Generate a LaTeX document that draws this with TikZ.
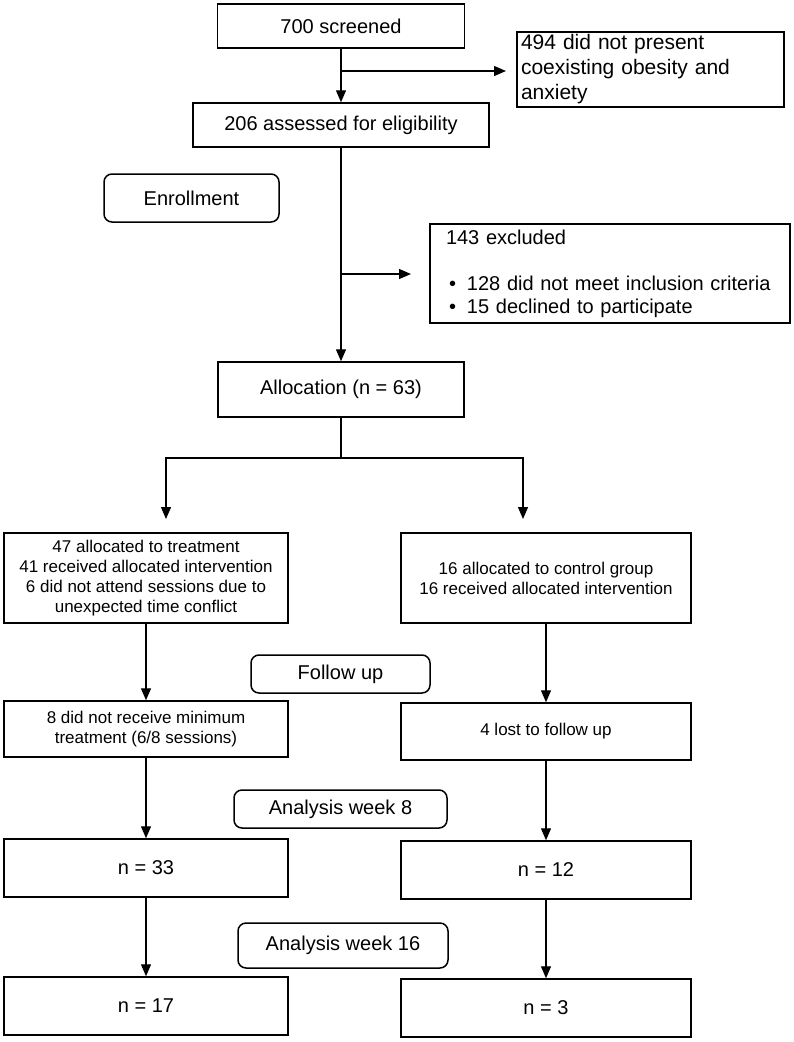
\documentclass[tikz,border=0pt]{standalone}
\usepackage{fontspec}
\setmainfont{Liberation Sans}
\usetikzlibrary{arrows.meta}
\begin{document}
\begin{tikzpicture}[x=1pt,y=-1pt,
  box/.style={draw, line width=1.5pt, inner sep=0pt, align=center, font=\fontsize{20}{23}\selectfont},
  small/.style={box, font=\fontsize{17}{20}\selectfont},
  stage/.style={box, rounded corners=8pt},
  arr/.style={-{Triangle[length=12pt,width=10pt]}, line width=1.3pt},
  ln/.style={line width=1.3pt}
]
\useasboundingbox[fill=white] (0,0) rectangle (793,1042);

% top part
\node[box, minimum width=247pt, minimum height=44pt] (s700) at (341,26) {700 screened};
\node[box, minimum width=267pt, minimum height=75pt, text width=259pt, align=left, font=\fontsize{21}{25}\selectfont] (n494) at (650.5,69.5)
  {494 did not present\\coexisting obesity and\\anxiety};
\node[box, minimum width=296pt, minimum height=44pt] (n206) at (341,125) {206 assessed for eligibility};
\node[stage, minimum width=175pt, minimum height=48pt] (enroll) at (191.5,198) {Enrollment};
\node[box, minimum width=360pt, minimum height=99pt, text width=328pt, align=left] (n143) at (610,273.5)
  {143 excluded\\[23pt]\hspace*{3pt}\makebox[18pt][l]{\textbullet}128 did not meet inclusion criteria\\\hspace*{3pt}\makebox[18pt][l]{\textbullet}15 declined to participate};
\node[box, minimum width=246pt, minimum height=55pt] (alloc) at (341,389.5) {Allocation (n = 63)};

% columns
\node[small, minimum width=284pt, minimum height=90pt] (tr47) at (146,578)
  {47 allocated to treatment\\41 received allocated intervention\\6 did not attend sessions due to\\unexpected time conflict};
\node[small, minimum width=290pt, minimum height=90pt] (ct16) at (546,578)
  {16 allocated to control group\\16 received allocated intervention};
\node[stage, minimum width=179pt, minimum height=38pt] (follow) at (340.5,674) {Follow up};
\node[small, minimum width=284pt, minimum height=56pt] (d8) at (146,729)
  {8 did not receive minimum\\treatment (6/8 sessions)};
\node[small, minimum width=290pt, minimum height=57pt] (l4) at (546,731.5) {4 lost to follow up};
\node[stage, minimum width=213pt, minimum height=38pt] (aw8) at (340.5,809) {Analysis week 8};
\node[box, minimum width=284pt, minimum height=58pt] (n33) at (146,868) {n = 33};
\node[box, minimum width=290pt, minimum height=58pt] (n12) at (546,870) {n = 12};
\node[stage, minimum width=210pt, minimum height=45pt] (aw16) at (343,945.5) {Analysis week 16};
\node[box, minimum width=284pt, minimum height=58pt] (n17) at (146,1006) {n = 17};
\node[box, minimum width=290pt, minimum height=58pt] (n3) at (546,1008) {n = 3};

% connectors top
\coordinate (t494) at (506,71);
\coordinate (t143) at (411,274);
\draw[arr] (s700.south) -- (s700.south |- n206.north);
\draw[arr] (s700.south |- t494) -- (t494);
\draw[arr] (n206.south) -- (n206.south |- alloc.north);
\draw[arr] (n206.south |- t143) -- (t143);

% allocation split
\coordinate (br) at (341,458);
\coordinate (bl) at (166,458);
\coordinate (brr) at (523,458);
\coordinate (tl) at (166,519);
\coordinate (tr) at (523,519);
\draw[ln] (alloc.south) -- (br);
\draw[arr] (br) -- (bl) -- (tl);
\draw[arr] (br) -- (brr) -- (tr);

% column arrows
\draw[arr] (tr47.south) -- (d8.north);
\draw[arr] (ct16.south) -- (l4.north);
\draw[arr] (d8.south) -- (n33.north);
\draw[arr] (l4.south) -- (n12.north);
\draw[arr] (n33.south) -- (n17.north);
\draw[arr] (n12.south) -- (n3.north);
\end{tikzpicture}
\end{document}
